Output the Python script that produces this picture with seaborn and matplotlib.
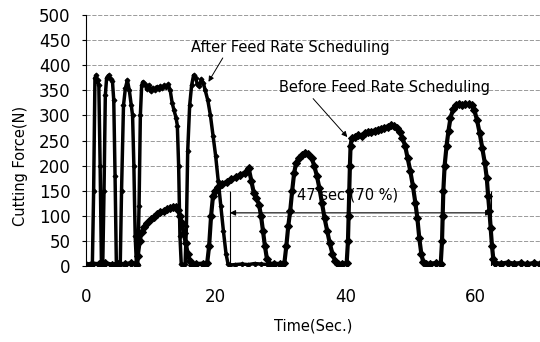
import matplotlib
matplotlib.use('Agg')
import matplotlib.pyplot as plt
import seaborn as sns
import pandas as pd

# after feed rate scheduling (time in sec, force in N)
after_t = [0, 0.5, 1.0, 1.2, 1.4, 1.6, 1.8, 2.0, 2.2, 2.4, 2.6, 2.8, 3.0, 3.2, 3.5, 3.8, 4.1, 4.3, 4.5, 4.7,
           5.0, 5.3, 5.5, 5.8, 6.1, 6.4, 6.7, 7.0, 7.2, 7.4, 7.6, 7.8, 8.0, 8.2, 8.4, 8.6, 8.8, 9.1, 9.4, 9.7,
           10.0, 10.3, 10.6, 10.9, 11.2, 11.5, 11.8, 12.1, 12.4, 12.7, 13.0, 13.3, 13.6, 13.9, 14.1, 14.3, 14.5, 14.7,
           15.0, 15.3, 15.5, 15.7, 16.0, 16.3, 16.6, 16.9, 17.2, 17.5, 17.8, 18.1, 18.4, 18.8, 19.2, 19.6,
           20.0, 20.4, 20.8, 21.2, 21.6, 21.9, 22.2, 23.0, 24.0, 25.0, 26.0, 27.0, 28.0, 29.0]
after_f = [2, 3, 2, 150, 375, 380, 370, 360, 200, 5, 0, 150, 340, 375, 380, 372, 368, 330, 180, 5,
           2, 3, 150, 320, 355, 370, 350, 320, 300, 200, 60, 3, 2, 120, 300, 360, 367, 362, 352, 360,
           348, 355, 350, 357, 352, 358, 355, 360, 356, 362, 350, 325, 310, 295, 280, 200, 60, 5,
           3, 5, 80, 230, 320, 360, 380, 375, 362, 358, 372, 365, 350, 330, 300, 260,
           220, 170, 120, 70, 25, 5, 2, 3, 4, 3, 5, 4, 3, 4]

# before feed rate scheduling
before_t = [0, 1, 2, 3, 4, 5, 6, 7, 7.8, 8.0, 8.3, 8.6, 9.0, 9.5, 10, 10.5, 11, 11.5, 12, 12.5, 13, 13.5, 13.9,
            14.2, 14.5, 14.8, 15.1, 15.4, 15.7, 16.0, 16.3, 17, 18, 18.7, 19.0, 19.3, 19.6, 19.9, 20.3, 21, 21.7,
            22.4, 23.1, 23.8, 24.5, 25.1, 25.5, 25.9, 26.3, 26.7, 27.0, 27.3, 27.6, 27.9, 28.3, 29, 30, 30.6,
            30.9, 31.2, 31.5, 31.8, 32.1, 32.4, 32.8, 33.3, 33.8, 34.3, 34.8, 35.2, 35.6, 36.0, 36.4, 36.8,
            37.2, 37.6, 38.0, 38.4, 38.8, 39.5, 40.2, 40.4, 40.5, 40.6, 40.7, 40.8, 41.0, 41.5, 42, 42.5, 43,
            43.5, 44, 44.5, 45, 45.5, 46, 46.5, 47, 47.5, 48, 48.4, 48.8, 49.2, 49.6, 50.0, 50.4, 50.8, 51.1,
            51.4, 51.7, 52.0, 52.5, 53, 54, 54.7, 54.9, 55.0, 55.1, 55.3, 55.6, 55.9, 56.2, 56.6, 57.0, 57.5,
            58, 58.5, 59, 59.5, 59.9, 60.3, 60.7, 61.1, 61.5, 61.8, 62.0, 62.2, 62.4, 62.6, 62.8, 63.1, 64,
            65, 66, 67, 68, 69, 70]
before_f = [3, 5, 4, 6, 3, 5, 4, 6, 5, 20, 50, 68, 78, 86, 93, 98, 103, 107, 110, 113, 115, 117, 118,
            112, 100, 85, 65, 45, 25, 10, 3, 4, 5, 6, 40, 100, 140, 150, 157, 163, 168,
            173, 177, 182, 186, 195, 170, 145, 135, 122, 100, 70, 40, 15, 4, 5, 4, 6,
            40, 80, 110, 150, 185, 205, 215, 222, 226, 224, 215, 200, 180, 155, 125, 95,
            70, 45, 25, 10, 4, 5, 6, 50, 100, 150, 200, 240, 255, 258, 262, 260, 265,
            267, 268, 270, 272, 274, 276, 278, 281, 280, 276, 268, 255, 240, 215, 190, 160, 125, 95,
            55, 25, 8, 4, 5, 6, 5, 50, 100, 150, 200, 240, 270, 295, 312, 320, 322,
            321, 323, 322, 320, 310, 290, 265, 235, 205, 175, 140, 110, 75, 40, 15, 6, 5,
            7, 5, 6, 4, 6, 5]

y_ticks = [0, 50, 100, 150, 200, 250, 300, 350, 400, 450, 500]
x_ticks = [0, 20, 40, 60]

# annotation positions
span_start, span_end, span_y = 22.2, 62.5, 106

sns.set_theme(style='white')
plt.rcParams['font.family'] = ['DejaVu Sans']
plt.rcParams['text.color'] = 'black'
plt.rcParams['axes.labelcolor'] = 'black'
plt.rcParams['xtick.color'] = 'black'
plt.rcParams['ytick.color'] = 'black'

df_after = pd.DataFrame({'t': after_t, 'f': after_f})
df_before = pd.DataFrame({'t': before_t, 'f': before_f})

fig, ax = plt.subplots(figsize=(5.4, 3.42), dpi=100)
fig.subplots_adjust(left=0.159, right=1.0, top=0.956, bottom=0.222)

for y in y_ticks:
    ax.axhline(y, color='#8a8a8a', lw=0.6, ls=(0, (5, 2)), zorder=0)

sns.lineplot(data=df_after, x='t', y='f', ax=ax, color='black', lw=2.5,
             marker='D', markersize=2.5, markeredgecolor='black', sort=False, estimator=None)
sns.lineplot(data=df_before, x='t', y='f', ax=ax, color='black', lw=3.0,
             marker='D', markersize=4, markeredgecolor='black', sort=False, estimator=None)

ax.set_xlim(0, 70)
ax.set_ylim(0, 500)
ax.set_xticks(x_ticks)
ax.set_yticks(y_ticks)
for s in ['top', 'right', 'bottom']:
    ax.spines[s].set_visible(False)
ax.spines['left'].set_color('black')
ax.spines['left'].set_linewidth(0.8)
ax.tick_params(axis='y', left=True, length=3, width=0.8, pad=8, labelsize=12)
ax.tick_params(axis='x', bottom=False, pad=10, labelsize=12)

ax.set_xlabel('Time(Sec.)', fontsize=10.5)
ax.set_ylabel('Cutting Force(N)', fontsize=10.5)
ax.yaxis.set_label_coords(-0.128, 0.40)
ax.xaxis.set_label_coords(0.5, -0.21)

ax.annotate('After Feed Rate Scheduling', xy=(18.9, 367), xytext=(16.2, 436),
            fontsize=10.5, va='center', ha='left',
            arrowprops=dict(arrowstyle='-|>', color='black', lw=0.7, mutation_scale=8,
                            shrinkA=0, shrinkB=0, relpos=(0.17, 0)))
ax.annotate('Before Feed Rate Scheduling', xy=(40.3, 257), xytext=(29.7, 355),
            fontsize=10.5, va='center', ha='left',
            arrowprops=dict(arrowstyle='-|>', color='black', lw=0.7, mutation_scale=8,
                            shrinkA=0, shrinkB=0, relpos=(0.15, 0)))

ax.vlines([span_start, span_end], 0, 150, color='black', lw=0.8)
ax.annotate('', xy=(span_start, span_y), xytext=(span_end, span_y),
            arrowprops=dict(arrowstyle='<|-|>', color='black', lw=0.8, mutation_scale=8,
                            shrinkA=0, shrinkB=0))
ax.text(32.6, 141, '47 sec (70 %)', fontsize=10.5, va='center', ha='left')

plt.savefig('out.png', dpi=100)
